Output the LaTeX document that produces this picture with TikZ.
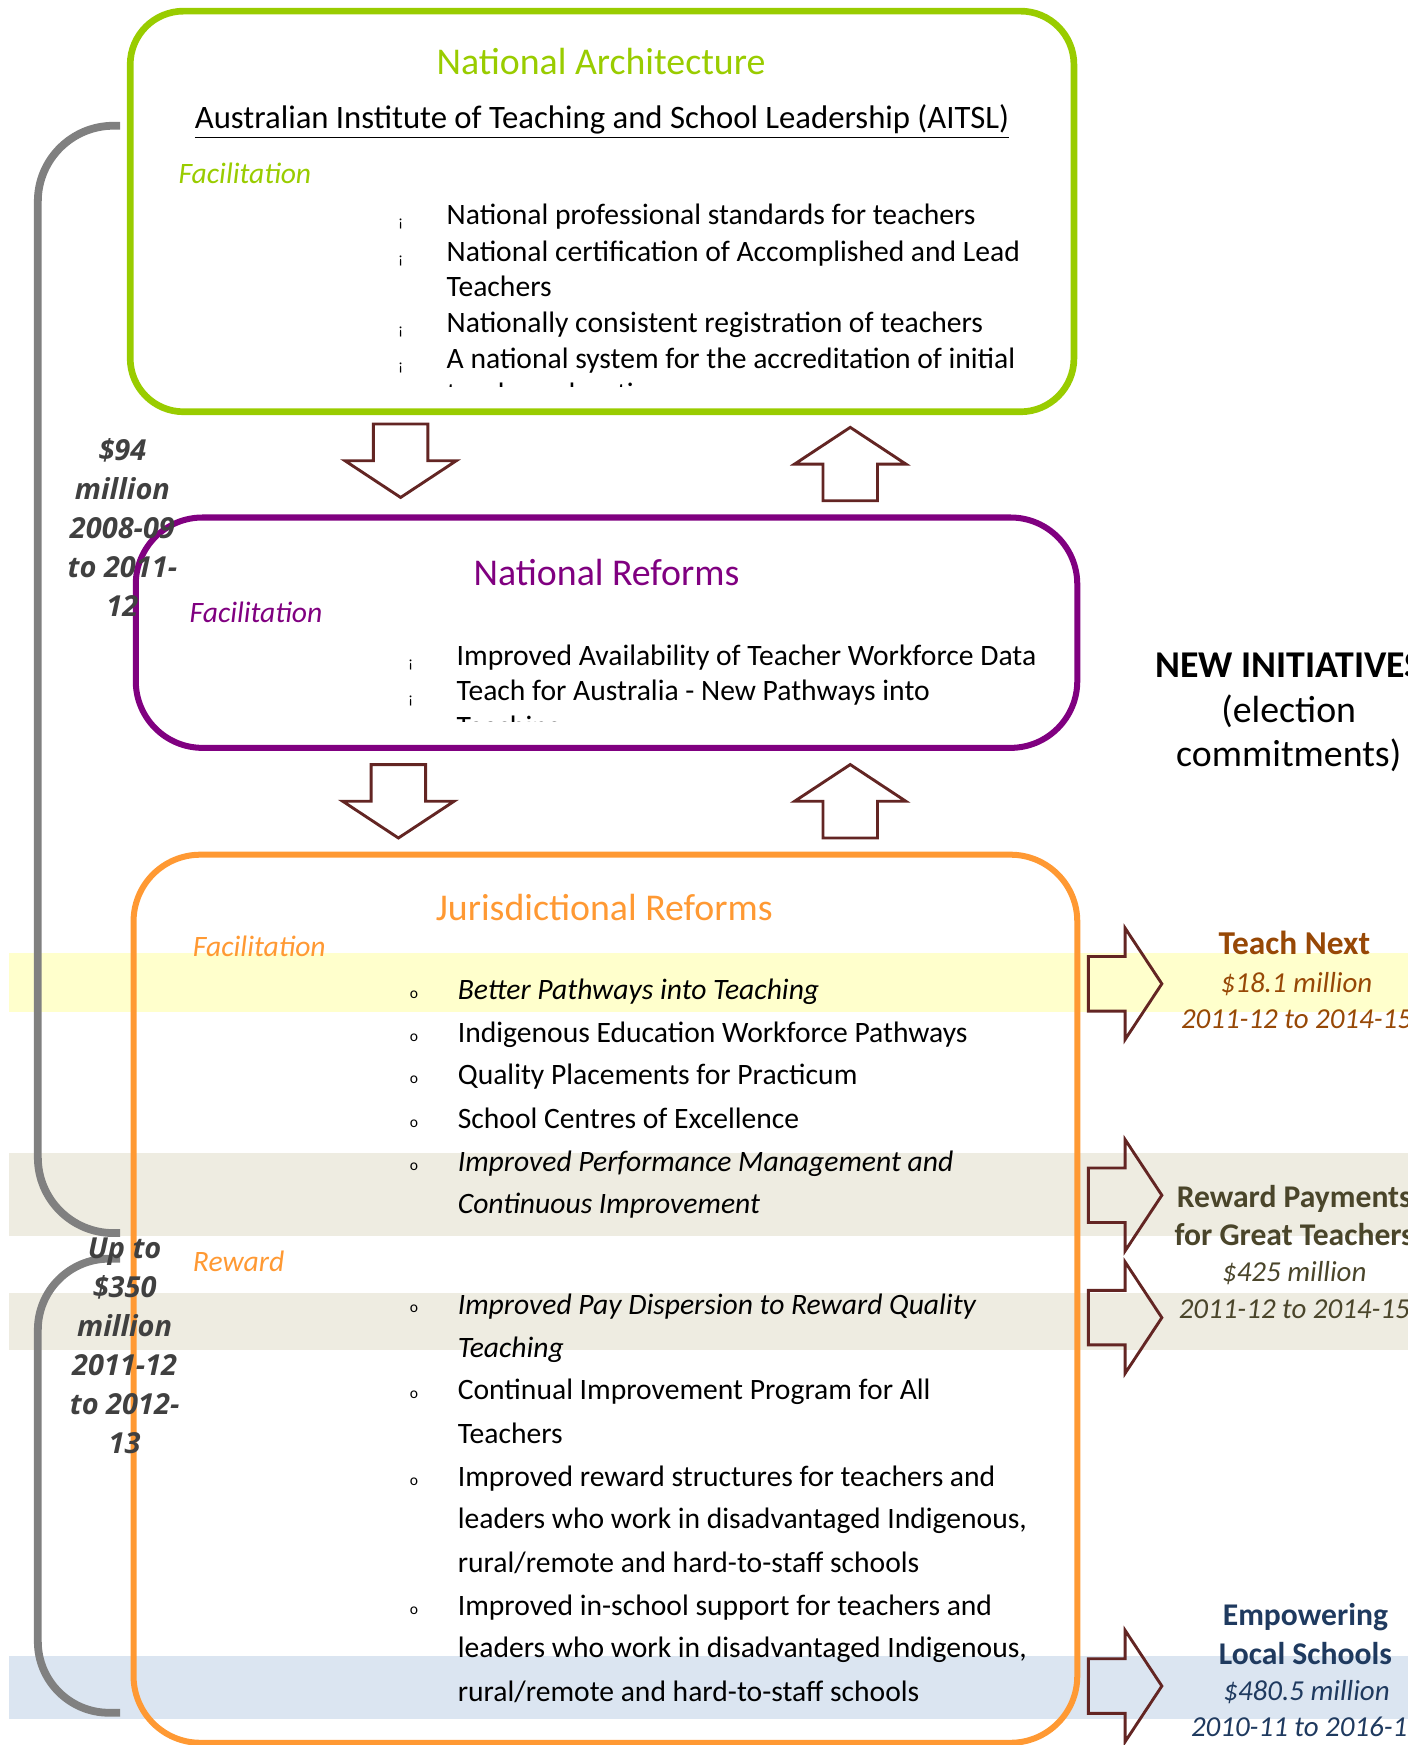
\documentclass[tikz,border=0pt]{standalone}
\usepackage{fontspec}
\setmainfont{Carlito}
\newfontfamily\amountfont{Open Sans}

\definecolor{archgreen}{HTML}{99CC00}
\definecolor{reformpurple}{HTML}{800080}
\definecolor{jurorange}{HTML}{FF9933}
\definecolor{arrowred}{HTML}{632523}
\definecolor{bracketgray}{HTML}{808080}
\definecolor{amountgray}{HTML}{404040}
\definecolor{bandyellow}{HTML}{FFFFCC}
\definecolor{bandtan}{HTML}{EEECE1}
\definecolor{bandblue}{HTML}{DBE5F1}
\definecolor{nextbrown}{HTML}{974806}
\definecolor{rewardolive}{HTML}{4A452A}
\definecolor{localblue}{HTML}{1F3A5F}

\tikzset{
  reformbox/.style={line width=2.7pt, rounded corners=30pt},
  bracket/.style={draw=bracketgray, line width=3.5pt, rounded corners=34pt},
  fatarrow/.pic={\draw[arrowred, line width=1.3pt]
      (-24.5,-66) -- (24.5,-66) -- (24.5,-33) -- (50,-33) -- (0,0)
      -- (-50,-33) -- (-24.5,-33) -- cycle;},
  boxtitle/.style={font=\fontsize{17}{20}\selectfont, inner sep=0pt, anchor=mid, yshift=-3.5pt},
  facil/.style={font=\fontsize{13.3}{16}\selectfont\itshape, inner sep=0pt, anchor=mid west, yshift=-2.5pt},
  bodyline/.style={font=\fontsize{13.3}{16}\selectfont, inner sep=0pt, anchor=mid west, yshift=-2.5pt},
  dot/.style={font=\fontsize{7}{8}\selectfont, inner sep=0pt, anchor=mid},
  amount/.style={font=\amountfont\fontsize{13}{17.5}\selectfont\bfseries\itshape,
      text=amountgray, align=center, inner sep=0pt},
  initname/.style={font=\fontsize{15}{17}\selectfont\bfseries, inner sep=0pt, anchor=mid, yshift=-3pt},
  initcost/.style={font=\fontsize{13}{16}\selectfont\itshape, inner sep=0pt, anchor=mid, yshift=-3pt},
}

\begin{document}
\begin{tikzpicture}[x=0.5pt, y=-0.5pt]
  \useasboundingbox (0,0) rectangle (1265,1568);
  \clip (0,0) rectangle (1265,1568);

  % Highlight bands
  \fill[bandyellow] (8,856) rectangle (1265,909);
  \fill[bandtan] (8,1036) rectangle (1265,1111);
  \fill[bandtan] (8,1162) rectangle (1265,1213);
  \fill[bandblue] (8,1488) rectangle (1265,1545);

  % Funding brackets
  \draw[bracket] (108,113) -| (34,1108) -- (108,1108);
  \draw[bracket, rounded corners=32pt] (108,1131) -| (34,1539) -- (108,1539);

  % Boxes
  \draw[reformbox, archgreen, rounded corners=24pt, line width=3pt] (117,10) rectangle (965,370);
  \draw[reformbox, reformpurple] (122,465) rectangle (968,672);
  \draw[reformbox, jurorange] (120,768) rectangle (968,1566);

  % Arrows between the boxes
  \pic at (360,447) {fatarrow};
  \pic[rotate=180] at (764,384) {fatarrow};
  \pic at (358,753) {fatarrow};
  \pic[rotate=180] at (764,687) {fatarrow};

  % Arrows to the new initiatives
  \foreach \y in {884,1074,1184,1515}
    \pic[rotate=90] at (1044,\y) {fatarrow};

  %%%%%%%%%%%%%%%%%%%%%%%%%%%%%%%%%%%%%%%%%%
  % National Architecture
  \node[boxtitle, text=archgreen] (archtitle) at (540,55) {National Architecture};
  \node[font=\fontsize{14.7}{17}\selectfont, inner sep=0pt, anchor=mid, yshift=-2.5pt] (aitsl) at (541,106)
    {\underline{Australian Institute of Teaching and School Leadership (AITSL)}};
  \node[facil, text=archgreen] (archfacil) at (160,155) {Facilitation};
  \foreach \y in {192,225,289,321}
    \node[dot] (ab\y) at (360,\y+7) {¡};
  \foreach \y/\txt in {192/National professional standards for teachers,
      225/National certification of Accomplished and Lead,
      257/Teachers,
      289/Nationally consistent registration of teachers,
      321/A national system for the accreditation of initial}
    \node[bodyline] (al\y) at (401,\y) {\txt};
  \begin{scope}
    \clip (117,10) rectangle (965,347);
    \node[bodyline] (alcut) at (401,353) {teacher education programs};
  \end{scope}

  %%%%%%%%%%%%%%%%%%%%%%%%%%%%%%%%%%%%%%%%%%
  % National Reforms
  \node[boxtitle, text=reformpurple] (nattitle) at (545,514) {National Reforms};
  \node[facil, text=reformpurple] (natfacil) at (170,550) {Facilitation};
  \foreach \y in {588,620}
    \node[dot] (nb\y) at (369,\y+7) {¡};
  \node[bodyline] (nl588) at (410,588) {Improved Availability of Teacher Workforce Data};
  \node[bodyline] (nl620) at (410,620) {Teach for Australia - New Pathways into};
  \begin{scope}
    \clip (122,465) rectangle (968,648);
    \node[bodyline] (nlcut) at (410,652) {Teaching};
  \end{scope}

  %%%%%%%%%%%%%%%%%%%%%%%%%%%%%%%%%%%%%%%%%%
  % Jurisdictional Reforms
  \node[boxtitle, text=jurorange] (jurtitle) at (543,815) {Jurisdictional Reforms};
  \node[facil, text=jurorange] (jurfacil) at (173,850) {Facilitation};
  \node[facil, text=jurorange] (jurreward) at (173,1133) {Reward};
  \foreach \y in {888,927,965,1004,1043,1171,1248,1326,1442}
    \node[dot] (jb\y) at (372,\y+4) {o};
  \foreach \y/\fnt/\txt in {888/\itshape/Better Pathways into Teaching,
      927/\upshape/Indigenous Education Workforce Pathways,
      965/\upshape/Quality Placements for Practicum,
      1004/\upshape/School Centres of Excellence,
      1043/\itshape/Improved Performance Management and,
      1081/\itshape/Continuous Improvement,
      1171/\itshape/Improved Pay Dispersion to Reward Quality,
      1210/\itshape/Teaching,
      1248/\upshape/Continual Improvement Program for All,
      1287/\upshape/Teachers,
      1326/\upshape/Improved reward structures for teachers and,
      1364/\upshape/{leaders who work in disadvantaged Indigenous,},
      1403/\upshape/{rural/remote and hard-to-staff schools},
      1442/\upshape/Improved in-school support for teachers and,
      1480/\upshape/{leaders who work in disadvantaged Indigenous,},
      1519/\upshape/{rural/remote and hard-to-staff schools}}
    \node[bodyline] (jl\y) at (411,\y) {\fnt\txt};

  % Funding amounts
  \node[amount] (natfund) at (110,474) {\$94\\million\\2008-09\\to 2011-\\12};
  \node[amount] (rewardfund) at (112,1209) {Up to\\\$350\\million\\2011-12\\to 2012-\\13};

  %%%%%%%%%%%%%%%%%%%%%%%%%%%%%%%%%%%%%%%%%%
  % New initiatives
  \node[font=\fontsize{17}{20}\selectfont, align=center, inner sep=0pt, yshift=-1.5pt] (newinit) at (1158,637)
    {\textbf{NEW INITIATIVES}\\(election\\commitments)};

  \node[initname, text=nextbrown] (nextname) at (1163,847) {Teach Next};
  \node[initcost, text=nextbrown] (nextcost) at (1165,881) {\$18.1 million};
  \node[initcost, text=nextbrown] (nextyears) at (1165,913) {2011-12 to 2014-15};

  \node[initname, text=rewardolive, font=\fontsize{14.2}{17}\selectfont\bfseries] (rewardname) at (1163,1074) {Reward Payments};
  \node[initname, text=rewardolive, font=\fontsize{14.2}{17}\selectfont\bfseries] (rewardname2) at (1163,1108) {for Great Teachers};
  \node[initcost, text=rewardolive] (rewardcost) at (1163,1141) {\$425 million};
  \node[initcost, text=rewardolive] (rewardyears) at (1163,1174) {2011-12 to 2014-15};

  \node[initname, text=localblue, font=\fontsize{14.2}{17}\selectfont\bfseries] (localname) at (1173,1450) {Empowering};
  \node[initname, text=localblue, font=\fontsize{14.2}{17}\selectfont\bfseries] (localname2) at (1173,1485) {Local Schools};
  \node[initcost, text=localblue] (localcost) at (1174,1517) {\$480.5 million};
  \node[initcost, text=localblue] (localyears) at (1174,1550) {2010-11 to 2016-17};
\end{tikzpicture}
\end{document}
